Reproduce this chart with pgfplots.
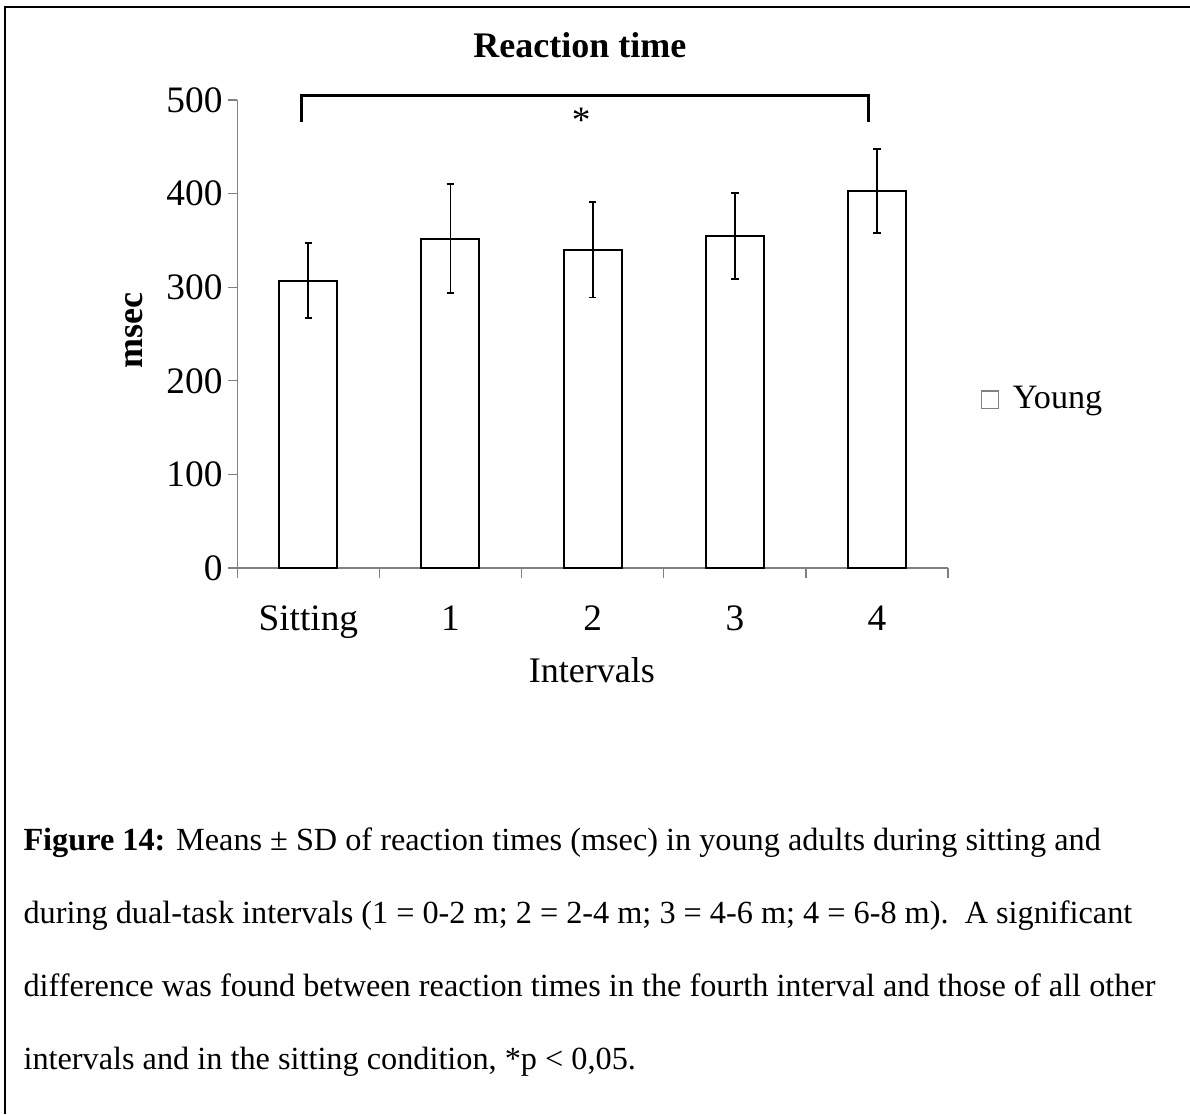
\documentclass[border=0pt]{standalone}
\usepackage{pgfplots}
\pgfplotsset{compat=1.18}
\usepackage{fontspec}
\setmainfont{Liberation Serif}
\begin{document}
\begin{tikzpicture}
\useasboundingbox (0,0) rectangle (446.25pt,-417.75pt);
\begin{axis}[
  at={(88.95pt,-213pt)}, anchor=south west,
  scale only axis, width=266.6pt, height=175.5pt,
  xmin=-0.5, xmax=4.5, ymin=0, ymax=500,
  axis x line*=bottom, axis y line*=left,
  axis line style={gray, line width=0.5pt, -},
  ytick={0,100,...,500},
  xtick={0,1,2,3,4},
  xticklabels={Sitting,1,2,3,4},
  tick align=outside,
  x tick style={draw=none},
  y tick style={gray, line width=0.5pt},
  major tick length=3.6pt,
  extra x ticks={-0.5,0.5,1.5,2.5,3.5,4.5},
  extra x tick labels={},
  extra x tick style={x tick style={draw=gray, line width=0.5pt}},
  /pgf/number format/assume math mode=true,
  tick label style={font=\fontsize{14}{16}\selectfont},
  xticklabel style={yshift=-7pt},
  yticklabel style={xshift=1.6pt},
  every axis title shift=0pt,
  title={\textbf{Reaction time}},
  title style={at={(rel axis cs:0.482,1.1175)}, anchor=center, font=\fontsize{13.5}{16}\selectfont},
  xlabel={Intervals},
  xlabel style={at={(rel axis cs:0.499,-0.218)}, anchor=center, font=\fontsize{13.5}{16}\selectfont},
  ylabel={\textbf{msec}},
  ylabel style={at={(rel axis cs:-0.145,0.5085)}, anchor=center, rotate=0, font=\fontsize{13.5}{16}\selectfont},
  ybar, bar width=21.75pt,
  clip=false,
  legend style={at={(rel axis cs:1.034,0.36)}, anchor=west, draw=none, fill=none,
     font=\fontsize{12.8}{15}\selectfont},
]
\addplot[draw=black, fill=white, line width=0.75pt,
  legend image code/.code={\draw[gray, line width=0.4pt, fill=white] (0pt,-3.2pt) rectangle (6.4pt,3.2pt); \path (9.4pt,0pt);},
  error bars/.cd, y dir=both, y explicit,
  error bar style={black, line width=0.7pt},
  error mark options={black, rotate=90, mark size=1.4pt, line width=0.7pt}]
  coordinates {
  (0,307) +- (0,40)
  (1,352) +- (0,58)
  (2,340) +- (0,51)
  (3,355) +- (0,46)
  (4,403) +- (0,45)
  };
\addlegendentry{Young}
\draw[black, line width=1.2pt] (axis cs:-0.05,477) -- (axis cs:-0.05,505) -- (axis cs:3.94,505) -- (axis cs:3.94,477);
\node[font=\fontsize{14}{16}\selectfont] at (axis cs:1.92,478) {*};
\end{axis}
\begin{scope}[x=0.375pt,y=-0.375pt]
\draw[line width=1pt] (5,1114) -- (5,7) -- (1190,7);
\begin{scope}[every node/.style={anchor=base west, inner sep=0pt, font=\fontsize{12.1}{14}\selectfont}]
\node at (23,850) {\textbf{Figure 14:} Means ± SD of reaction times (msec) in young adults during sitting and};
\node at (23,923) {during dual-task intervals (1 = 0-2 m; 2 = 2-4 m; 3 = 4-6 m; 4 = 6-8 m).\ \ A significant};
\node at (23,996) {difference was found between reaction times in the fourth interval and those of all other};
\node at (23,1069) {intervals and in the sitting condition, *p < 0,05.};
\end{scope}
\end{scope}
\end{tikzpicture}
\end{document}
